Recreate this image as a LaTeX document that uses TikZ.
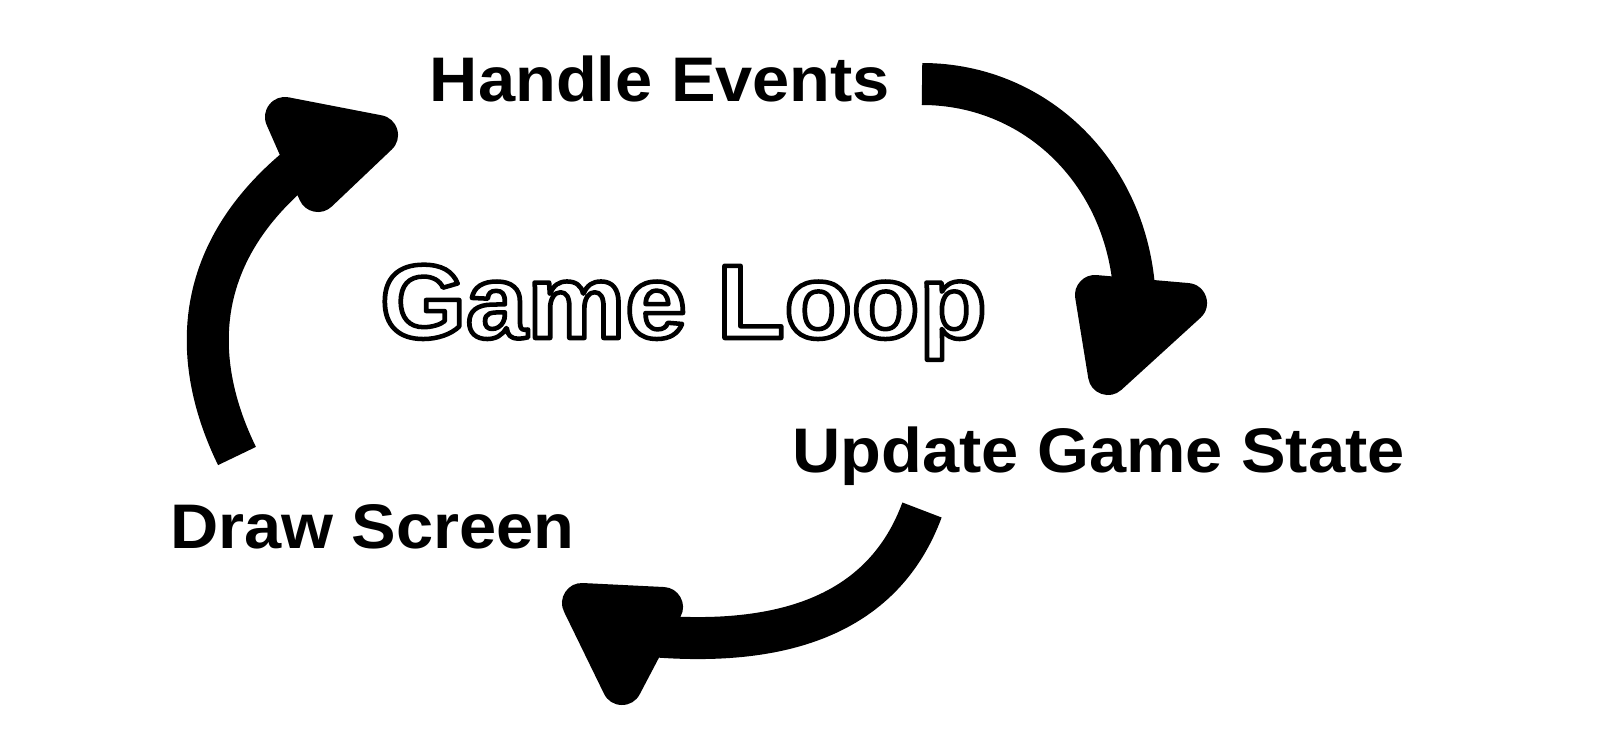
\documentclass[tikz,border=0pt]{standalone}
\usepackage{fontspec}
\setmainfont{Liberation Sans}
\usepackage{graphicx}
\newcommand{\outlinetext}[1]{{\color{white}\special{pdf:literal direct 0 G 2 Tr 4.5 w 1 j}#1\special{pdf:literal direct 0 Tr}}}
\tikzset{
  lbl/.style={inner sep=0pt, anchor=base, font=\bfseries\fontsize{63}{70}\selectfont},
  title/.style={inner sep=0pt, anchor=base, font=\bfseries\fontsize{105}{110}\selectfont},
  band/.style={draw=black, line width=42pt, line cap=butt},
  head/.style={fill=black, draw=black, line width=40pt, line join=round},
}
\begin{document}
\begin{tikzpicture}[x=1pt,y=-1pt]
\useasboundingbox (0,0) rectangle (1598,746);
\fill[white] (0,0) rectangle (1598,746);

% labels
\node[lbl] (he) at (660,102) {\scalebox{1.06}[1]{Handle Events}};
\node[lbl] (ug) at (1098.5,472) {\scalebox{1.06}[1]{Update Game State}};
\node[lbl] (ds) at (372.5,548) {\scalebox{1.06}[1]{Draw Screen}};
\node[title] (gl) at (683.5,338) {\scalebox{1.05}[1]{\outlinetext{Game Loop}}};

% arrow 1: Handle Events -> Update Game State
\coordinate (a1s) at (922,84);
\coordinate (a1e) at (1135,310);
\draw[band] (a1s) .. controls (1040,84) and (1135,180) .. (a1e);
\filldraw[head] (1095,295) -- (1187,303) -- (1108,375) -- cycle;

% arrow 2: Update Game State -> Draw Screen
\coordinate (a2s) at (922,510);
\coordinate (a2e) at (640,635);
\draw[band] (a2s) .. controls (885,610) and (790,650) .. (a2e);
\filldraw[head] (582,603) -- (663,607) -- (622,685) -- cycle;

% arrow 3: Draw Screen -> Handle Events
\coordinate (a3s) at (237,456);
\coordinate (a3e) at (320,150);
\draw[band] (a3s) .. controls (195,370) and (180,250) .. (a3e);
\filldraw[head] (285,117) -- (378,135) -- (318,192) -- cycle;
\end{tikzpicture}
\end{document}
